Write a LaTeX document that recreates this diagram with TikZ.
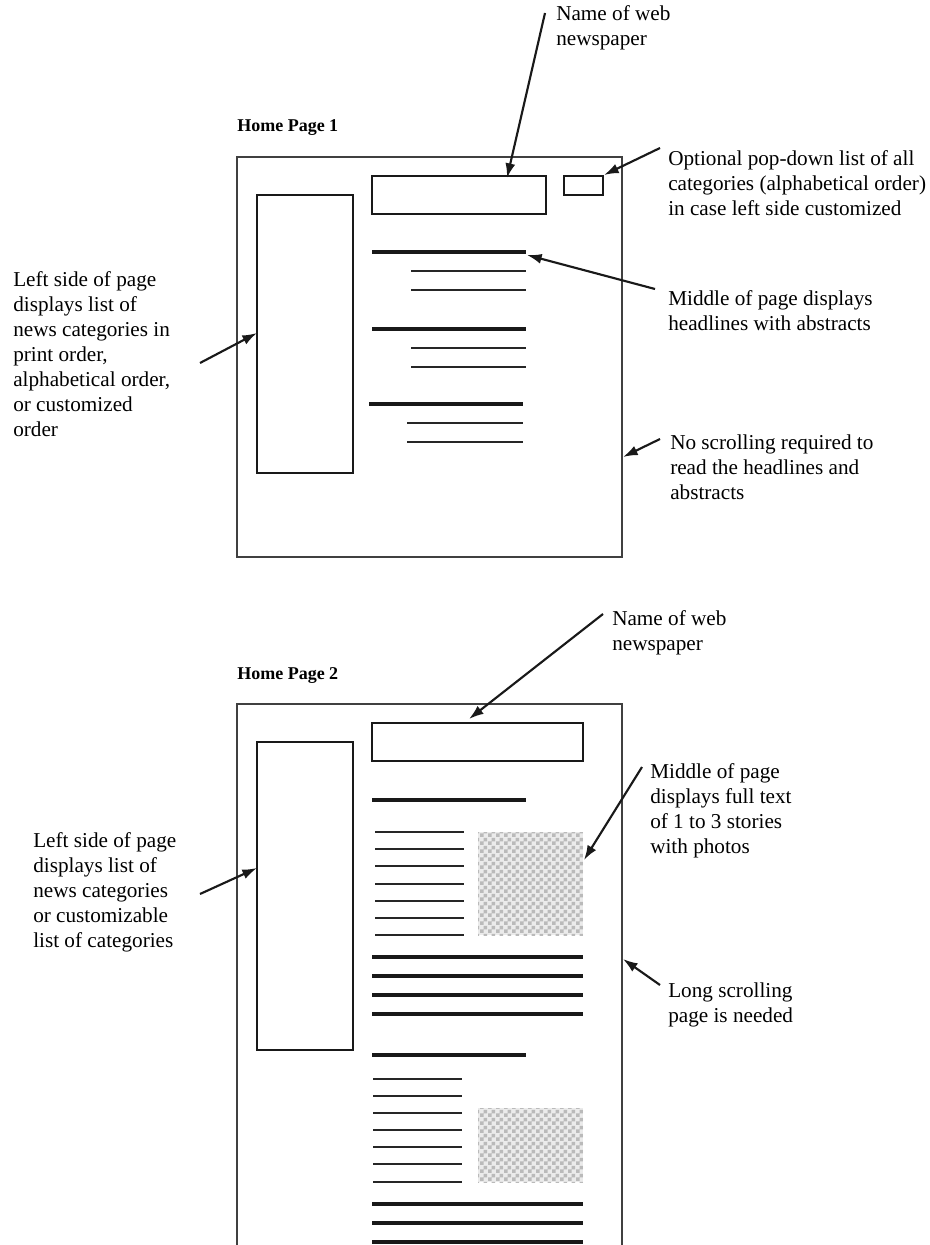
\documentclass[tikz,border=0pt]{standalone}
\usepackage{fontspec}
\setmainfont{Liberation Serif}
\usetikzlibrary{arrows.meta,patterns}
\pgfdeclarepatternformonly{photochecks}{\pgfqpoint{0pt}{0pt}}{\pgfqpoint{6pt}{6pt}}{\pgfqpoint{6pt}{6pt}}{
  \pgfpathrectangle{\pgfqpoint{0pt}{0pt}}{\pgfqpoint{3pt}{3pt}}
  \pgfpathrectangle{\pgfqpoint{3pt}{3pt}}{\pgfqpoint{3pt}{3pt}}
  \pgfusepath{fill}
}
\tikzset{
lbl/.style={
  anchor=base west,
  align=left,
  inner sep=0pt,
  font=\fontsize{15.9pt}{18.75pt}\selectfont
  },
title/.style={
  anchor=base west,
  inner sep=0pt,
  font=\fontsize{13.5pt}{16pt}\selectfont\bfseries
  },
frame/.style={draw=black!75, line width=0.8pt},
sidebox/.style={draw=black!90, line width=1pt},
namebox/.style={draw=black!90, line width=1.9pt},
headline/.style={draw=black!90, line width=2.3pt},
textline/.style={draw=black!85, line width=1pt},
photo/.style={pattern=photochecks, pattern color=black!27},
callout/.style={-{Latex[length=11pt,width=7.5pt]}, line width=1.6pt, draw=black!90}
}
\begin{document}
\begin{tikzpicture}[x=0.75pt, y=-0.75pt]
\useasboundingbox (0,0) rectangle (930,1245);

% page 1
\node[title] (home1) at (237,132) {Home Page 1};
\draw[frame] (237,157) rectangle (622,557);
\draw[sidebox] (257,195) rectangle (353,473);
\draw[namebox] (372,176) rectangle (546,214);
\draw[namebox] (564,176) rectangle (603,195);
\draw[headline] (372,252) -- (526,252);
\draw[textline] (411,271) -- (526,271);
\draw[textline] (411,290) -- (526,290);
\draw[headline] (372,329) -- (526,329);
\draw[textline] (411,348) -- (526,348);
\draw[textline] (411,367) -- (526,367);
\draw[headline] (369,404) -- (523,404);
\draw[textline] (407,423) -- (523,423);
\draw[textline] (407,442) -- (523,442);

\node[lbl] (name1) at (556,46) {Name of web\\newspaper};
\node[lbl] (popdown) at (668,215) {Optional pop-down list of all\\categories (alphabetical order)\\in case left side customized};
\node[lbl] (middle1) at (668,330) {Middle of page displays\\headlines with abstracts};
\node[lbl] (left1) at (13,436) {Left side of page\\displays list of\\news categories in\\print order,\\alphabetical order,\\or customized\\order};
\node[lbl] (noscroll) at (670,499) {No scrolling required to\\read the headlines and\\abstracts};

\coordinate (name1-s) at (545,13);
\coordinate (name1-e) at (507,178);
\coordinate (popdown-s) at (660,148);
\coordinate (popdown-e) at (604,175);
\coordinate (middle1-s) at (655,289);
\coordinate (middle1-e) at (527,255);
\coordinate (left1-s) at (200,363);
\coordinate (left1-e) at (257,333);
\coordinate (noscroll-s) at (660,439);
\coordinate (noscroll-e) at (623,457);

\draw[callout] (name1-s) -- (name1-e);
\draw[callout] (popdown-s) -- (popdown-e);
\draw[callout] (middle1-s) -- (middle1-e);
\draw[callout] (left1-s) -- (left1-e);
\draw[callout] (noscroll-s) -- (noscroll-e);

% page 2
\node[title] (home2) at (237,679) {Home Page 2};
\draw[frame] (237,1246) -- (237,704) -- (622,704) -- (622,1246);
\draw[sidebox] (257,742) rectangle (353,1050);
\draw[namebox] (372,723) rectangle (583,761);
\draw[headline] (372,800) -- (526,800);
\draw[textline] (375,832) -- (464,832);
\draw[textline] (375,849) -- (464,849);
\draw[textline] (375,866) -- (464,866);
\draw[textline] (375,884) -- (464,884);
\draw[textline] (375,901) -- (464,901);
\draw[textline] (375,918) -- (464,918);
\draw[textline] (375,935) -- (464,935);
\fill[black!8] (478,832) rectangle (583,935);
\fill[photo] (478,832) rectangle (583,935);
\draw[headline] (372,957) -- (583,957);
\draw[headline] (372,976) -- (583,976);
\draw[headline] (372,995) -- (583,995);
\draw[headline] (372,1014) -- (583,1014);
\draw[headline] (372,1055) -- (526,1055);
\draw[textline] (373,1079) -- (462,1079);
\draw[textline] (373,1096) -- (462,1096);
\draw[textline] (373,1113) -- (462,1113);
\draw[textline] (373,1130) -- (462,1130);
\draw[textline] (373,1147) -- (462,1147);
\draw[textline] (373,1164) -- (462,1164);
\draw[textline] (373,1182) -- (462,1182);
\fill[black!8] (478,1108) rectangle (583,1182);
\fill[photo] (478,1108) rectangle (583,1182);
\draw[headline] (372,1204) -- (583,1204);
\draw[headline] (372,1223) -- (583,1223);
\draw[headline] (372,1242) -- (583,1242);

\node[lbl] (name2) at (612,650) {Name of web\\newspaper};
\node[lbl] (middle2) at (650,853) {Middle of page\\displays full text\\of 1 to 3 stories\\with photos};
\node[lbl] (left2) at (33,947) {Left side of page\\displays list of\\news categories\\or customizable\\list of categories};
\node[lbl] (longscroll) at (668,1022) {Long scrolling\\page is needed};

\coordinate (name2-s) at (603,614);
\coordinate (name2-e) at (469,719);
\coordinate (middle2-s) at (642,767);
\coordinate (middle2-e) at (584,860);
\coordinate (left2-s) at (200,894);
\coordinate (left2-e) at (257,868);
\coordinate (longscroll-s) at (660,985);
\coordinate (longscroll-e) at (623,959);

\draw[callout] (name2-s) -- (name2-e);
\draw[callout] (middle2-s) -- (middle2-e);
\draw[callout] (left2-s) -- (left2-e);
\draw[callout] (longscroll-s) -- (longscroll-e);
\end{tikzpicture}
\end{document}
